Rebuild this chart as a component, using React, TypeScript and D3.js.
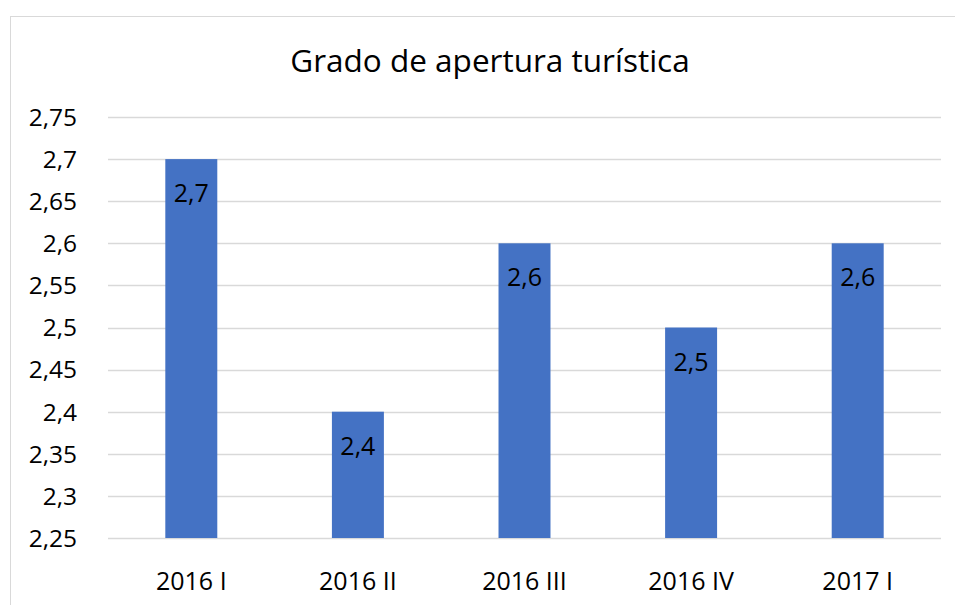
import React, { useEffect, useRef } from 'react';
import * as d3 from 'd3';

const categories = ['2016 I', '2016 II', '2016 III', '2016 IV', '2017 I'];
const values = [2.7, 2.4, 2.6, 2.5, 2.6];
const yTicks = [2.25, 2.3, 2.35, 2.4, 2.45, 2.5, 2.55, 2.6, 2.65, 2.7, 2.75];

const fmt = (v: number) => String(+v.toFixed(2)).replace('.', ',');

export default function App() {
  const ref = useRef<SVGSVGElement>(null);

  useEffect(() => {
    const svg = d3.select(ref.current);
    svg.selectAll('*').remove();

    const font = '"Segoe UI", "Open Sans", "Noto Sans", sans-serif';

    // chart frame
    svg
      .append('rect')
      .attr('x', 10.5)
      .attr('y', 16.5)
      .attr('width', 960)
      .attr('height', 620)
      .attr('fill', '#fff')
      .attr('stroke', '#d9d9d9')
      .attr('stroke-width', 1);

    const x = d3.scaleBand().domain(categories).range([108, 941]).paddingInner(0.688).paddingOuter(0.344);
    const y = d3.scaleLinear().domain([2.25, 2.75]).range([538, 117]);

    svg
      .append('text')
      .attr('x', 490)
      .attr('y', 72)
      .attr('text-anchor', 'middle')
      .style('font-family', font)
      .style('font-size', '31.5px')
      .style('fill', '#000')
      .text('Grado de apertura turística');

    // gridlines
    svg
      .append('g')
      .selectAll('line')
      .data(yTicks)
      .enter()
      .append('line')
      .attr('x1', 108)
      .attr('x2', 941)
      .attr('y1', (d) => Math.round(y(d)) + 0.5)
      .attr('y2', (d) => Math.round(y(d)) + 0.5)
      .attr('stroke', '#d9d9d9')
      .attr('stroke-width', 1.3);

    // y labels
    svg
      .append('g')
      .selectAll('text')
      .data(yTicks)
      .enter()
      .append('text')
      .attr('x', 77)
      .attr('y', (d) => y(d))
      .attr('dy', '0.36em')
      .attr('text-anchor', 'end')
      .style('font-family', font)
      .style('font-size', '24.5px')
      .style('fill', '#000')
      .text((d) => fmt(d));

    const g = svg
      .append('g')
      .selectAll('g')
      .data(categories)
      .enter()
      .append('g');

    g.append('rect')
      .attr('x', (d) => x(d)!)
      .attr('width', x.bandwidth())
      .attr('y', (d, i) => y(values[i]))
      .attr('height', (d, i) => y(2.25) - y(values[i]))
      .attr('fill', '#4472c4');

    g.append('text')
      .attr('x', (d) => x(d)! + x.bandwidth() / 2)
      .attr('y', (d, i) => y(values[i]) + 43)
      .attr('text-anchor', 'middle')
      .style('font-family', font)
      .style('font-size', '25px')
      .style('fill', '#000')
      .text((d, i) => fmt(values[i]));

    // x labels
    g.append('text')
      .attr('x', (d) => x(d)! + x.bandwidth() / 2)
      .attr('y', 590)
      .attr('text-anchor', 'middle')
      .style('font-family', font)
      .style('font-size', '25px')
      .style('fill', '#000')
      .text((d) => d);
  }, []);

  return (
    <svg
      ref={ref}
      width={955}
      height={605}
      style={{ position: 'absolute', left: 0, top: 0, background: '#fff' }}
    ></svg>
  );
}
